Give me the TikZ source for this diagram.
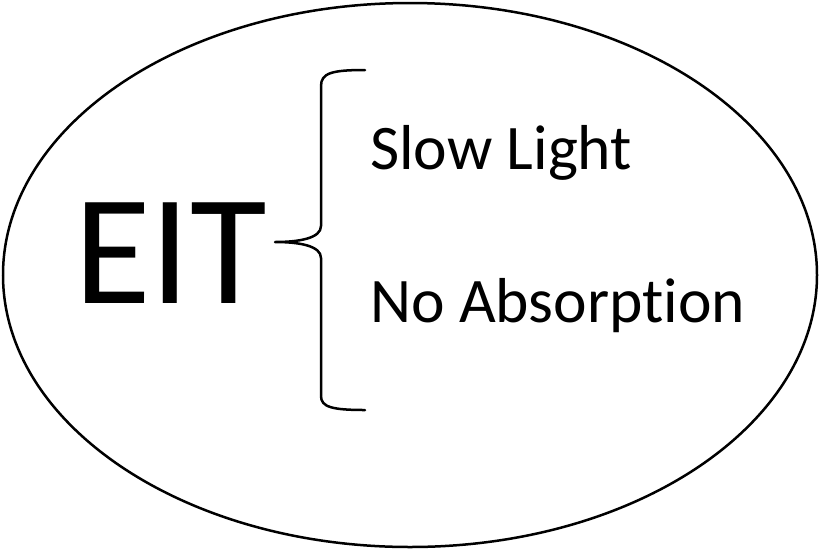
\documentclass[tikz,border=0pt]{standalone}
\usepackage{fontspec}
\setmainfont[Ligatures={NoCommon}]{Carlito}
\usetikzlibrary{shapes.geometric}
\begin{document}
\begin{tikzpicture}[x=1pt,y=-1pt,
  outline/.style={draw=black,line width=2.5pt},
  bigtext/.style={font=\fontsize{157}{160}\selectfont,inner sep=0pt},
  item/.style={font=\fontsize{63.5}{66}\selectfont,inner sep=0pt,anchor=base west}]
\useasboundingbox (0,0) rectangle (820,550);
\fill[white] (0,0) rectangle (820,550);
\draw[outline] (410,275) ellipse [x radius=407, y radius=272];
\node[bigtext,anchor=base west] (eit) at (74,303) {EIT};
\node[item] (slow) at (370,169) {Slow Light};
\node[item] (noabs) at (370,322) {No Absorp\kern0pt tion};
\draw[outline,line cap=round,line join=round]
  (365,70) .. controls (332,70) and (321,73) .. (321,86)
  -- (321,226) .. controls (321,238) and (300,242) .. (275,242)
  .. controls (300,242) and (321,246) .. (321,258)
  -- (321,396) .. controls (321,407) and (332,410) .. (365,410);
\end{tikzpicture}
\end{document}
